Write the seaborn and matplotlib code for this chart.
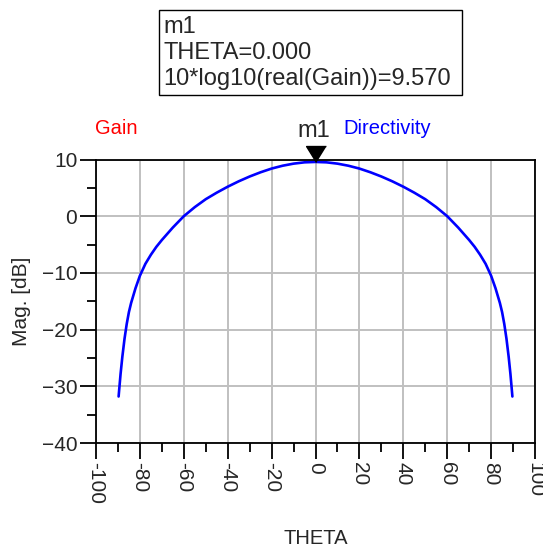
import matplotlib
matplotlib.use("Agg")
import matplotlib.pyplot as plt
from matplotlib.patches import Rectangle
from matplotlib.ticker import MultipleLocator
import pandas as pd
import seaborn as sns

# ---------------- data ----------------
theta = [-89.7, -89.3, -88.8, -88, -87, -86, -85, -84, -82, -80, -77.5, -75, -72.5, -70, -65, -60,
         -55, -50, -45, -40, -35, -30, -25, -20, -15, -10, -5, 0,
         5, 10, 15, 20, 25, 30, 35, 40, 45, 50, 55,
         60, 65, 70, 72.5, 75, 77.5, 80, 82, 84, 85, 86, 87, 88, 88.8, 89.3, 89.7]
directivity = [-31.8, -30.0, -27.8, -24.8, -21.6, -19.0, -16.9, -15.3, -12.7, -10.5, -8.4, -6.8, -5.4, -4.2, -2.0, 0.0,
               1.6, 3.0, 4.15, 5.2, 6.15, 7.0, 7.75, 8.4, 8.9, 9.27, 9.5, 9.57,
               9.5, 9.27, 8.9, 8.4, 7.75, 7.0, 6.15, 5.2, 4.15, 3.0, 1.6,
               0.0, -2.0, -4.2, -5.4, -6.8, -8.4, -10.5, -12.7, -15.3, -16.9, -19.0, -21.6, -24.8, -27.8, -30.0, -31.8]
x_ticks = [-100, -80, -60, -40, -20, 0, 20, 40, 60, 80, 100]
y_ticks = [-40, -30, -20, -10, 0, 10]
marker_theta = 0.0
marker_value = 9.570

df = pd.DataFrame({"THETA": theta, "Directivity": directivity})

sns.set_style("white")
plt.rcParams["font.family"] = ["Liberation Sans", "DejaVu Sans"]

fig = plt.figure(figsize=(5.43, 5.48), dpi=100)
ax = fig.add_axes([96 / 543, 1 - 443 / 548, 439 / 543, 283.5 / 548])

sns.lineplot(data=df, x="THETA", y="Directivity", color="#0000ff", linewidth=1.9, ax=ax)

ax.set_xlim(-100, 100); ax.set_ylim(-40, 10)
ax.set_xticks(x_ticks); ax.set_yticks(y_ticks)
ax.xaxis.set_minor_locator(MultipleLocator(10))
ax.yaxis.set_minor_locator(MultipleLocator(5))
ax.set_xticklabels([str(t) for t in x_ticks], rotation=270)
ax.grid(True, which="major", color="#c0c0c0", linewidth=1.4)
ax.tick_params(which="major", direction="out", length=11.5, width=1.3, color="black",
               labelsize=15, pad=2, bottom=True, left=True)
ax.tick_params(which="minor", direction="out", length=6.5, width=1.3, color="black",
               bottom=True, left=True)
for s in ax.spines.values():
    s.set_color("black"); s.set_linewidth(1.3)

ax.set_xlabel("THETA", fontsize=14.5, labelpad=18)
ax.set_ylabel("Mag. [dB]", fontsize=15, labelpad=8)

# marker m1 (triangle with its tip on the data point)
ax.plot([marker_theta], [marker_value], marker=[(0, 0), (-0.62, 1), (0.62, 1)],
        markersize=23, color="black", clip_on=False, linestyle="none")
ax.text(0.497, 1.079, "m1", transform=ax.transAxes, fontsize=17, ha="center", va="baseline")

# trace labels
ax.text(0.0456, 1.111, "Gain", transform=ax.transAxes, color="#ff0000", fontsize=14.5,
        ha="center", va="center")
ax.text(0.664, 1.111, "Directivity", transform=ax.transAxes, color="#0000ff", fontsize=14.5,
        ha="center", va="center")

# marker readout box
fig.patches.append(Rectangle((159 / 543, 1 - 95 / 548), 303 / 543, 85 / 548,
                             transform=fig.transFigure, fill=False, edgecolor="black",
                             linewidth=1.0))
lines = ["m1", f"THETA={marker_theta:.3f}", f"10*log10(real(Gain))={marker_value:.3f}"]
for txt, base in zip(lines, [33, 59, 85]):
    fig.text(163 / 543, 1 - base / 548, txt, fontsize=17, ha="left", va="baseline")

fig.savefig("out.png", dpi=100)
